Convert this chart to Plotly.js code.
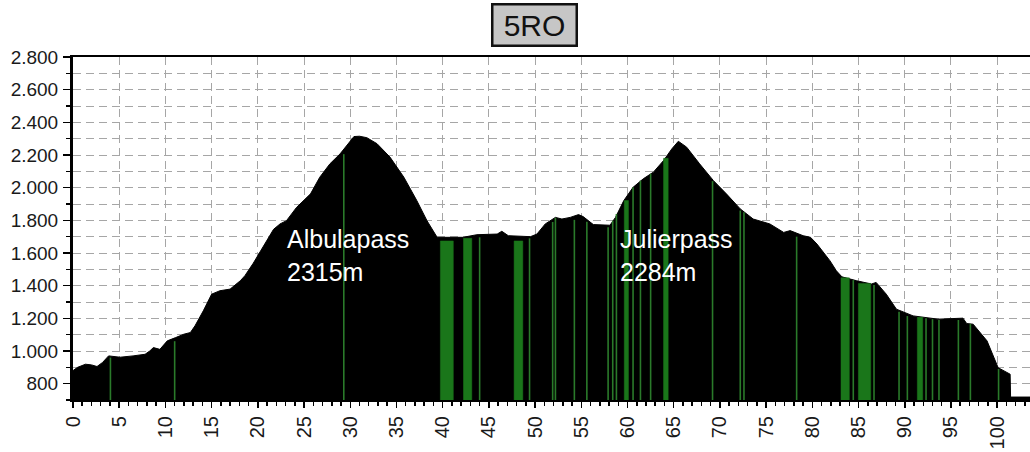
<!DOCTYPE html>
<html>
<head>
<meta charset="utf-8">
<script src="https://cdn.plot.ly/plotly-3.0.1.min.js"></script>
<style>
  html, body { margin: 0; padding: 0; background: #fff; }
  #profil { width: 1030px; height: 452px; }
</style>
</head>
<body>
<div id="profil"></div>
<script>
// Höhenprofil Etappe 5RO (km / m ü. M.)
var km = [0, 0.5, 1.35, 2.0, 2.6, 3.2, 3.85, 4.5, 5.1, 6.5, 7.8, 8.3, 8.7, 9.4, 10.2, 11.1, 12.0, 12.7, 13.2, 14.1,
	15.0, 15.9, 17.0, 18.1, 18.6, 19.5, 20.6, 21.7, 22.4, 23.1, 24.2, 25.7, 26.7, 27.8, 28.9, 30.0, 30.4, 31.0, 31.8, 32.9,
	34.3, 35.8, 37.2, 38.3, 39.4, 42.2, 43.7, 45.9, 46.4, 47.1, 49.5, 50.2, 51.1, 52.2, 52.9, 53.8, 54.7, 55.2, 56.3, 58.1,
	58.7, 59.6, 60.6, 61.7, 62.8, 63.9, 64.8, 65.5, 66.4, 67.8, 69.3, 70.7, 72.2, 73.6, 75.4, 76.9, 77.6, 79.0, 79.8, 80.5,
	81.9, 82.6, 83.2, 84.8, 86.4, 86.9, 88.0, 89.1, 90.9, 93.6, 96.3, 96.7, 97.4, 98.9, 100.1, 101.4, 101.45, 103.6];
var hoehe = [880, 900, 919, 915, 905, 930, 970, 965, 962, 970, 980, 1000, 1021, 1010, 1062, 1082, 1103, 1113, 1154, 1246,
	1348, 1369, 1379, 1430, 1461, 1537, 1640, 1745, 1778, 1798, 1880, 1962, 2064, 2146, 2207, 2289, 2313, 2315, 2306, 2269,
	2187, 2064, 1921, 1798, 1696, 1696, 1712, 1716, 1733, 1706, 1700, 1716, 1778, 1818, 1808, 1818, 1835, 1823, 1774, 1770,
	1818, 1921, 2002, 2054, 2095, 2166, 2238, 2284, 2248, 2146, 2043, 1962, 1870, 1808, 1778, 1726, 1737, 1706, 1696, 1655,
	1553, 1491, 1454, 1430, 1410, 1420, 1348, 1256, 1215, 1195, 1201, 1168, 1164, 1062, 898, 858, 718, 718];

// breite grüne Abschnitte
var balkenVon = [39.75, 42.25, 47.73, 59.65, 63.9, 83.1, 84.98, 91.36];
var balkenBis = [41.15, 43.15, 48.67, 60.1, 64.4, 84.0, 86.32, 91.94];
var balkenTop = [1674, 1690, 1674, 1921, 2180, 1448, 1414, 1206];

// schmale grüne Striche
var strichKm = [4.05, 11.0, 29.3, 44.0, 49.4, 51.9, 52.2, 54.25, 55.6, 57.9, 58.4, 58.8, 60.6, 61.4, 62.5,
	69.2, 72.2, 72.6, 78.3, 84.43, 86.67, 89.38, 90.28, 92.3, 93.0, 93.7, 95.8, 97.1, 100.15];
var strichTop = [960, 1060, 2205, 1696, 1690, 1790, 1815, 1803, 1792, 1757, 1798, 1839, 2002, 2043, 2085,
	2040, 1860, 1850, 1700, 1434, 1404, 1240, 1214, 1200, 1195, 1190, 1190, 1165, 890];

var xTicks = [0, 5, 10, 15, 20, 25, 30, 35, 40, 45, 50, 55, 60, 65, 70, 75, 80, 85, 90, 95, 100];
var yTicks = [800, 1000, 1200, 1400, 1600, 1800, 2000, 2200, 2400, 2600, 2800];
var yLabels = ['800', '1.000', '1.200', '1.400', '1.600', '1.800', '2.000', '2.200', '2.400', '2.600', '2.800'];

var yMin = 700, yMax = 2800;
var gruen = '#1a761a';

var bx = [], by = [];
for (var i = 0; i < balkenVon.length; i++) {
	bx.push(balkenVon[i], balkenVon[i], balkenBis[i], balkenBis[i], null);
	by.push(yMin, balkenTop[i], balkenTop[i], yMin, null);
}
var sx = [], sy = [];
for (var j = 0; j < strichKm.length; j++) {
	sx.push(strichKm[j], strichKm[j], null);
	sy.push(yMin, strichTop[j], null);
}

var profil = {
	x: km,
	y: hoehe,
	type: 'scatter',
	mode: 'lines',
	fill: 'tozeroy',
	fillcolor: '#000',
	line: {color: '#000', width: 1}
};
var balken = {
	x: bx,
	y: by,
	type: 'scatter',
	mode: 'lines',
	fill: 'toself',
	fillcolor: gruen,
	line: {color: gruen, width: 0.5}
};
var striche = {
	x: sx,
	y: sy,
	type: 'scatter',
	mode: 'lines',
	line: {color: '#2a7a2a', width: 1.6}
};

var grid = '#a6a6a6';
var font = 'Arial, "Liberation Sans", sans-serif';

var layout = {
	width: 1030,
	height: 452,
	margin: {l: 73, r: 0, t: 57, b: 52},
	paper_bgcolor: '#fff',
	plot_bgcolor: '#fff',
	showlegend: false,
	hovermode: false,
	font: {family: font, size: 18, color: '#1a1a1a'},
	xaxis: {
		range: [0, 103.55],
		tickmode: 'array',
		tickvals: xTicks,
		ticktext: xTicks.map(String),
		tickangle: -90,
		tickfont: {size: 20},
		ticks: 'outside',
		ticklen: 6,
		tickwidth: 1.5,
		tickcolor: '#000',
		showline: true,
		linecolor: '#000',
		linewidth: 2,
		mirror: true,
		showgrid: true,
		gridcolor: grid,
		griddash: '8px,5px',
		gridwidth: 1,
		zeroline: false,
		minor: {dtick: 1, ticks: 'outside', ticklen: 4, tickcolor: '#000', tickwidth: 1.5}
	},
	yaxis: {
		range: [yMin, yMax],
		tickmode: 'array',
		tickvals: yTicks,
		ticktext: yLabels,
		tickfont: {size: 19},
		ticks: 'outside',
		ticklen: 7,
		tickwidth: 1.5,
		tickcolor: '#000',
		ticklabelstandoff: 1,
		showline: true,
		linecolor: '#000',
		linewidth: 3,
		showgrid: true,
		gridcolor: grid,
		griddash: '8px,5px',
		zeroline: false,
		minor: {dtick: 100, ticks: 'outside', ticklen: 4, tickcolor: '#000', tickwidth: 1.5,
			showgrid: true, gridcolor: grid, griddash: '8px,5px'}
	},
	annotations: [
		{
			xref: 'paper', yref: 'paper', x: 0.482, y: 1.094,
			xanchor: 'center', yanchor: 'middle',
			text: '5RO', showarrow: false,
			font: {family: font, size: 30, color: '#111'},
			bgcolor: '#c6c6c6', bordercolor: '#111', borderwidth: 2.5, borderpad: 1,
			width: 80, height: 37
		},
		{
			x: 22.9, y: 1585, xanchor: 'left', yanchor: 'middle',
			text: 'Albulapass<br>2315m', align: 'left', showarrow: false,
			font: {family: font, size: 25, color: '#fff'}
		},
		{
			x: 58.95, y: 1585, xanchor: 'left', yanchor: 'middle',
			text: 'Julierpass<br>2284m', align: 'left', showarrow: false,
			font: {family: font, size: 25, color: '#fff'}
		}
	]
};

Plotly.newPlot('profil', [profil, balken, striche], layout, {displayModeBar: false, staticPlot: true});
</script>
</body>
</html>
